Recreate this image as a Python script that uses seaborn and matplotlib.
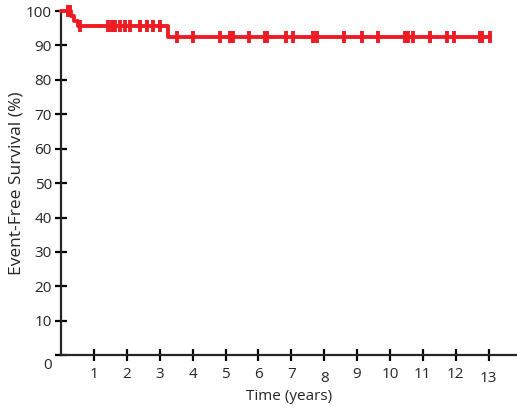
import numpy as np
import pandas as pd
import matplotlib
matplotlib.use("Agg")
import matplotlib.pyplot as plt
import matplotlib.transforms as mtransforms
import seaborn as sns

# Kaplan-Meier steps (time in years, survival in %)
step_t = [0.0, 0.30, 0.40, 0.52, 3.25, 13.04]
step_s = [100.0, 98.5, 97.0, 95.6, 92.6, 92.6]

# censored observations
cens_t = [0.22, 0.27, 0.58, 1.43, 1.55, 1.64, 1.79, 1.95, 2.10, 2.40, 2.60, 2.80, 3.00,
          3.52, 4.02, 4.83, 5.14, 5.23, 5.71, 6.20, 6.27, 6.84, 7.04, 7.65, 7.77,
          8.60, 9.16, 9.63, 10.46, 10.55, 10.71, 11.22, 11.72, 11.95, 12.73, 12.80, 13.04]
cens_s = [100, 100, 95.6] + [95.6] * 10 + [92.6] * 24

x_ticks = list(range(1, 14))
y_ticks = list(range(0, 101, 10))

RED = "#ED1C24"

sns.set_style("ticks")
plt.rcParams["font.family"] = ["Open Sans", "DejaVu Sans"]

fig = plt.figure(figsize=(5.17, 4.11), dpi=100)
ax = fig.add_axes([0.118, 0.136, 0.882, 0.837])

df_step = pd.DataFrame({"t": step_t, "s": step_s})
df_cens = pd.DataFrame({"t": cens_t, "s": cens_s})

sns.lineplot(data=df_step, x="t", y="s", drawstyle="steps-post", color=RED,
             linewidth=2.8, ax=ax, clip_on=False, zorder=3)
sns.scatterplot(data=df_cens, x="t", y="s", marker="|", s=85, linewidth=2.8,
                color=RED, ax=ax, clip_on=False, zorder=4)

ax.set_xlim(0, 13.86)
ax.set_ylim(0, 100)
ax.set_xticks(x_ticks)
ax.set_yticks(y_ticks)
ax.tick_params(axis="both", direction="inout", length=9, width=1.6, labelsize=11,
               color="black", pad=2)
ax.tick_params(axis="x", pad=4)
for sp in ["top", "right"]:
    ax.spines[sp].set_visible(False)
for sp in ["left", "bottom"]:
    ax.spines[sp].set_linewidth(1.6)

ax.set_xlabel("Time (years)", fontsize=11, labelpad=2)
ax.set_ylabel("Event-Free Survival (%)", fontsize=12.5, labelpad=1)

# the "0" label sits a little below the axis in the original
fig.canvas.draw()
ylabels = ax.get_yticklabels()
off = mtransforms.ScaledTranslation(0, -6 / 72, fig.dpi_scale_trans)
ylabels[0].set_transform(ylabels[0].get_transform() + off)
xlabels = ax.get_xticklabels()
off2 = mtransforms.ScaledTranslation(0, -3 / 72, fig.dpi_scale_trans)
for i in (7, 12):
    xlabels[i].set_transform(xlabels[i].get_transform() + off2)

fig.savefig("out.png", dpi=100)
